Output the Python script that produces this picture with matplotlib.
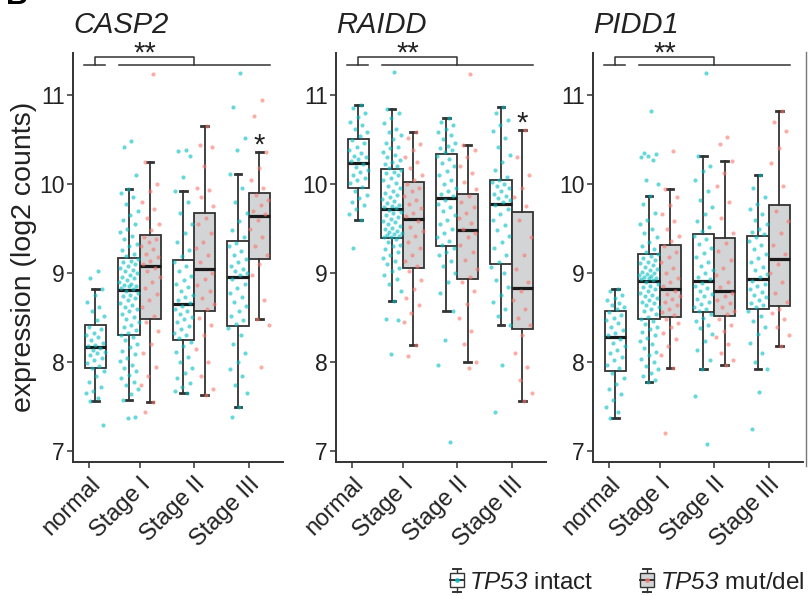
import numpy as np
import matplotlib
matplotlib.use('Agg')
import matplotlib.pyplot as plt
from matplotlib.patches import Rectangle, Patch
from matplotlib.lines import Line2D
from matplotlib.legend_handler import HandlerBase

plt.rcParams['font.family'] = ['Liberation Sans', 'DejaVu Sans']
plt.rcParams['mathtext.fontset'] = 'custom'
# the math part of the legend is only used for the italic gene name
plt.rcParams['mathtext.rm'] = 'Liberation Sans:italic'
plt.rcParams['mathtext.it'] = 'Liberation Sans:italic'

stage_labels = ['normal', 'Stage I', 'Stage II', 'Stage III']
genes = ['CASP2', 'RAIDD', 'PIDD1']
legend_labels = [r'$\mathrm{TP53}$ intact', r'$\mathrm{TP53}$ mut/del']

# box order: normal, I intact, I mut, II intact, II mut, III intact, III mut
casp2_med = [8.17, 8.81, 9.08, 8.65, 9.05, 8.96, 9.64]
casp2_q1 = [7.94, 8.30, 8.48, 8.25, 8.57, 8.41, 9.16]
casp2_q3 = [8.42, 9.17, 9.43, 9.15, 9.68, 9.36, 9.90]
casp2_lo = [7.56, 7.58, 7.55, 7.65, 7.63, 7.50, 8.49]
casp2_hi = [8.82, 9.94, 10.25, 9.92, 10.65, 10.11, 10.36]

raidd_med = [10.24, 9.72, 9.61, 9.84, 9.48, 9.78, 8.83]
raidd_q1 = [9.95, 9.39, 9.06, 9.30, 8.93, 9.10, 8.37]
raidd_q3 = [10.51, 10.17, 10.02, 10.34, 9.89, 10.05, 9.69]
raidd_lo = [9.60, 8.69, 8.19, 8.57, 8.00, 8.42, 7.57]
raidd_hi = [10.89, 10.84, 10.58, 10.74, 10.44, 10.87, 10.61]

pidd1_med = [8.28, 8.91, 8.82, 8.91, 8.80, 8.93, 9.16]
pidd1_q1 = [7.90, 8.48, 8.51, 8.56, 8.52, 8.60, 8.63]
pidd1_q3 = [8.58, 9.22, 9.32, 9.44, 9.39, 9.42, 9.77]
pidd1_lo = [7.37, 7.78, 7.93, 7.92, 7.97, 7.92, 8.18]
pidd1_hi = [8.82, 9.86, 9.94, 10.32, 10.26, 10.10, 10.82]

# single-box significance (index into box order)
casp2_star = [6]
raidd_star = [6]
pidd1_star = []

# per-sample points
casp2_normal = [9.02, 8.94, 8.82, 8.75, 8.68, 8.62, 8.58, 8.52, 8.47,
                8.40, 8.37, 8.33, 8.30, 8.28, 8.25, 8.22, 8.19, 8.18,
                8.16, 8.14, 8.12, 8.10, 8.08, 8.05, 8.02, 7.99, 7.96,
                7.93, 7.90, 7.85, 7.78, 7.72, 7.68, 7.65, 7.60, 7.56, 7.30]
casp2_s1_intact = [10.48, 10.41, 10.10, 9.94, 9.90, 9.85, 9.78, 9.70, 9.65, 9.60,
                   9.55, 9.50, 9.46, 9.42, 9.38, 9.33, 9.30, 9.26, 9.22, 9.19,
                   9.16, 9.14, 9.12, 9.10, 9.08, 9.06, 9.04, 9.02, 9.00, 8.98,
                   8.96, 8.94, 8.92, 8.90, 8.88, 8.87, 8.86, 8.85, 8.83, 8.82,
                   8.80, 8.78, 8.76, 8.74, 8.72, 8.70, 8.67, 8.64, 8.62, 8.60,
                   8.57, 8.54, 8.51, 8.48, 8.45, 8.42, 8.39, 8.36, 8.33, 8.31,
                   8.28, 8.25, 8.21, 8.17, 8.13, 8.09, 8.05, 8.01, 7.97, 7.94,
                   7.90, 7.86, 7.82, 7.78, 7.74, 7.70, 7.64, 7.58, 7.39, 7.37]
casp2_s1_mut = [11.24, 10.25, 10.00, 9.92, 9.80, 9.72, 9.62, 9.55, 9.48,
                9.41, 9.38, 9.35, 9.30, 9.27, 9.22, 9.18, 9.14, 9.10,
                9.06, 9.02, 8.96, 8.90, 8.83, 8.77, 8.70, 8.62, 8.52,
                8.45, 8.35, 8.20, 8.10, 7.95, 7.85, 7.75, 7.55, 7.44]
casp2_s2_intact = [10.38, 10.37, 10.31, 10.08, 9.92, 9.80, 9.68, 9.55, 9.45, 9.35, 9.26, 9.19,
                   9.13, 9.08, 9.02, 8.97, 8.92, 8.88, 8.84, 8.80, 8.76, 8.73, 8.70, 8.67,
                   8.63, 8.60, 8.57, 8.54, 8.51, 8.48, 8.45, 8.41, 8.37, 8.33, 8.30, 8.27,
                   8.23, 8.18, 8.12, 8.06, 8.00, 7.94, 7.88, 7.82, 7.77, 7.72, 7.68, 7.65]
casp2_s2_mut = [10.65, 10.44, 10.42, 10.20, 9.95, 9.93, 9.85, 9.75,
                9.62, 9.55, 9.45, 9.35, 9.28, 9.20, 9.12,
                9.00, 8.93, 8.87, 8.80, 8.72, 8.65, 8.60,
                8.50, 8.42, 8.30, 8.15, 8.00, 7.85, 7.70, 7.63]
casp2_s3_intact = [11.25, 10.86, 10.52, 10.38, 10.11, 9.95, 9.80, 9.68, 9.58, 9.48, 9.40,
                   9.34, 9.30, 9.25, 9.20, 9.16, 9.12, 9.08, 9.05, 9.02, 9.00, 8.98,
                   8.93, 8.88, 8.83, 8.78, 8.73, 8.68, 8.63, 8.58, 8.52, 8.47, 8.43,
                   8.38, 8.30, 8.20, 8.10, 8.00, 7.92, 7.85, 7.75, 7.65, 7.50, 7.38]
casp2_s3_mut = [10.94, 10.76, 10.36, 10.18, 10.05, 9.95,
                9.88, 9.82, 9.76, 9.70, 9.66,
                9.60, 9.50, 9.40, 9.30, 9.20,
                9.10, 8.98, 8.70, 8.49, 8.42, 7.95]

raidd_normal = [10.89, 10.85, 10.80, 10.75, 10.70, 10.66, 10.62, 10.58, 10.54,
                10.49, 10.46, 10.42, 10.38, 10.35, 10.32, 10.30, 10.28, 10.26,
                10.22, 10.19, 10.16, 10.13, 10.10, 10.07, 10.04, 10.01, 9.97,
                9.92, 9.88, 9.84, 9.80, 9.76, 9.72, 9.66, 9.60, 9.28]
raidd_s1_intact = [11.26, 10.84, 10.80, 10.74, 10.68, 10.62, 10.58, 10.55, 10.50, 10.46,
                   10.42, 10.40, 10.36, 10.33, 10.30, 10.27, 10.25, 10.22, 10.20, 10.18,
                   10.16, 10.14, 10.12, 10.10, 10.07, 10.04, 10.01, 9.98, 9.95, 9.92,
                   9.90, 9.88, 9.85, 9.83, 9.81, 9.79, 9.77, 9.75, 9.74, 9.73,
                   9.71, 9.69, 9.67, 9.65, 9.63, 9.61, 9.59, 9.57, 9.55, 9.53,
                   9.51, 9.49, 9.47, 9.46, 9.45, 9.44, 9.43, 9.42, 9.41, 9.40,
                   9.38, 9.35, 9.32, 9.30, 9.27, 9.24, 9.20, 9.17, 9.14, 9.10,
                   9.06, 9.02, 8.98, 8.93, 8.88, 8.80, 8.69, 8.49, 8.47, 8.09]
raidd_s1_mut = [10.58, 10.52, 10.45, 10.38, 10.30, 10.25, 10.18, 10.10, 10.05,
                10.00, 9.96, 9.92, 9.87, 9.82, 9.78, 9.73, 9.68, 9.64,
                9.58, 9.52, 9.47, 9.42, 9.35, 9.28, 9.20, 9.14, 9.08,
                9.02, 8.92, 8.82, 8.72, 8.64, 8.55, 8.45, 8.19, 8.07]
raidd_s2_intact = [10.74, 10.70, 10.66, 10.62, 10.58, 10.55, 10.50, 10.46, 10.43, 10.40, 10.38, 10.36,
                   10.32, 10.28, 10.24, 10.20, 10.15, 10.10, 10.05, 10.00, 9.96, 9.92, 9.89, 9.86,
                   9.82, 9.78, 9.74, 9.70, 9.65, 9.60, 9.55, 9.50, 9.45, 9.40, 9.36, 9.32,
                   9.28, 9.24, 9.20, 9.14, 9.08, 9.00, 8.90, 8.78, 8.57, 8.25, 7.97, 7.10]
raidd_s2_mut = [11.24, 10.44, 10.38, 10.30, 10.20, 10.12, 10.02, 9.94,
                9.86, 9.80, 9.74, 9.68, 9.62, 9.56, 9.50,
                9.45, 9.40, 9.32, 9.24, 9.15, 9.05, 8.96,
                8.90, 8.80, 8.65, 8.50, 8.35, 8.20, 8.00, 7.94]
raidd_s3_intact = [10.87, 10.80, 10.72, 10.66, 10.60, 10.52, 10.42, 10.33, 10.25, 10.16, 10.08,
                   10.04, 10.02, 10.00, 9.98, 9.95, 9.92, 9.89, 9.86, 9.84, 9.82, 9.80,
                   9.76, 9.72, 9.66, 9.60, 9.54, 9.48, 9.42, 9.35, 9.28, 9.20, 9.13,
                   9.07, 9.00, 8.92, 8.84, 8.76, 8.68, 8.60, 8.52, 8.42, 7.97, 7.44]
raidd_s3_mut = [10.61, 10.30, 10.10, 9.95, 9.85, 9.75,
                9.60, 9.40, 9.20, 9.05, 8.90,
                8.80, 8.70, 8.60, 8.50, 8.42,
                8.30, 8.10, 7.95, 7.80, 7.65, 7.57]

pidd1_normal = [8.82, 8.80, 8.76, 8.72, 8.70, 8.67, 8.64, 8.62, 8.60,
                8.56, 8.53, 8.50, 8.47, 8.44, 8.40, 8.36, 8.33, 8.30,
                8.26, 8.22, 8.18, 8.14, 8.10, 8.06, 8.02, 7.97, 7.93,
                7.88, 7.82, 7.76, 7.70, 7.64, 7.58, 7.50, 7.44, 7.37]
pidd1_s1_intact = [10.82, 10.35, 10.34, 10.32, 10.30, 10.27, 10.04, 10.00, 9.86, 9.78,
                   9.68, 9.60, 9.55, 9.50, 9.45, 9.40, 9.35, 9.30, 9.27, 9.24,
                   9.21, 9.19, 9.17, 9.15, 9.13, 9.11, 9.09, 9.07, 9.05, 9.03,
                   9.01, 9.00, 8.99, 8.98, 8.97, 8.96, 8.95, 8.94, 8.93, 8.92,
                   8.90, 8.88, 8.86, 8.84, 8.82, 8.80, 8.78, 8.76, 8.74, 8.72,
                   8.70, 8.68, 8.66, 8.64, 8.62, 8.60, 8.57, 8.54, 8.51, 8.49,
                   8.46, 8.43, 8.40, 8.37, 8.34, 8.30, 8.27, 8.24, 8.20, 8.16,
                   8.12, 8.08, 8.04, 8.00, 7.96, 7.92, 7.88, 7.84, 7.80, 7.78]
pidd1_s1_mut = [10.37, 9.94, 9.85, 9.76, 9.66, 9.58, 9.50, 9.42, 9.36,
                9.30, 9.24, 9.18, 9.12, 9.06, 9.00, 8.95, 8.90, 8.85,
                8.80, 8.77, 8.74, 8.71, 8.68, 8.64, 8.60, 8.56, 8.53,
                8.48, 8.44, 8.39, 8.33, 8.26, 8.18, 8.08, 7.93, 7.21]
pidd1_s2_intact = [11.25, 10.32, 10.20, 10.15, 10.05, 9.92, 9.82, 9.74, 9.66, 9.58, 9.52, 9.47,
                   9.42, 9.38, 9.33, 9.28, 9.23, 9.18, 9.13, 9.08, 9.04, 9.00, 8.96, 8.93,
                   8.89, 8.86, 8.83, 8.80, 8.77, 8.74, 8.71, 8.68, 8.65, 8.62, 8.60, 8.58,
                   8.54, 8.50, 8.46, 8.42, 8.38, 8.32, 8.24, 8.14, 8.02, 7.92, 7.62, 7.08]
pidd1_s2_mut = [10.53, 10.45, 10.26, 10.12, 9.98, 9.80, 9.62, 9.45,
                9.34, 9.25, 9.15, 9.06, 8.98, 8.90, 8.84,
                8.78, 8.74, 8.70, 8.66, 8.62, 8.58, 8.54,
                8.48, 8.42, 8.35, 8.28, 8.20, 8.10, 8.02, 7.97]
pidd1_s3_intact = [10.10, 9.95, 9.85, 9.78, 9.72, 9.66, 9.60, 9.55, 9.50, 9.46, 9.44,
                   9.40, 9.36, 9.32, 9.27, 9.22, 9.17, 9.12, 9.07, 9.03, 8.99, 8.96,
                   8.91, 8.88, 8.85, 8.82, 8.79, 8.76, 8.73, 8.70, 8.67, 8.64, 8.62,
                   8.57, 8.52, 8.46, 8.40, 8.32, 8.22, 8.10, 8.00, 7.92, 7.67, 7.25]
pidd1_s3_mut = [10.82, 10.70, 10.60, 10.40, 10.24, 9.98,
                9.70, 9.58, 9.45, 9.32, 9.22,
                9.10, 9.00, 8.90, 8.78, 8.68,
                8.60, 8.55, 8.48, 8.40, 8.30, 8.18]

INTACT = '#00BFC4'
MUT = '#F8766D'
EDGE = '#333333'
GRAY_FILL = '#d3d4d6'
TXT = '#222222'

tick_pos = [0.08, 1, 2, 3]
box_pos = [0.19, 0.805, 1.195, 1.805, 2.195, 2.805, 3.195]
box_is_mut = [False, False, True, False, True, False, True]


class BoxIcon(HandlerBase):
    def __init__(self, fill, dot):
        super().__init__()
        self.fill = fill
        self.dot = dot

    def create_artists(self, legend, orig_handle, xdescent, ydescent,
                       width, height, fontsize, trans):
        x0, y0 = -xdescent, -ydescent
        cx = x0 + width / 2
        bw = width * 0.75
        arts = [Line2D([cx, cx], [y0 - 0.25 * height, y0 + 1.25 * height], color=EDGE, lw=1.0),
                Line2D([cx - bw * 0.3, cx + bw * 0.3], [y0 - 0.25 * height] * 2, color=EDGE, lw=1.4),
                Line2D([cx - bw * 0.3, cx + bw * 0.3], [y0 + 1.25 * height] * 2, color=EDGE, lw=1.4),
                Rectangle((cx - bw / 2, y0 + 0.05 * height), bw, 0.9 * height,
                          facecolor=self.fill, edgecolor=EDGE, lw=1.0),
                Line2D([cx - bw / 2, cx + bw / 2], [y0 + 0.5 * height] * 2, color=EDGE, lw=1.4),
                Line2D([cx], [y0 + 0.5 * height], marker='o', ms=3.5, color=self.dot,
                       alpha=0.8, mew=0)]
        for a in arts:
            a.set_transform(trans)
        return arts


def jitter(n, width=0.36):
    # evenly spread horizontal offsets (golden-ratio sequence)
    return ((np.arange(1, n + 1) * 0.6180339887) % 1 - 0.5) * width


def draw_panel(ax, gene, med, q1, q3, lo, hi, groups, stars):
    stats = [dict(med=med[i], q1=q1[i], q3=q3[i], whislo=lo[i], whishi=hi[i])
             for i in range(len(med))]
    bp = ax.bxp(stats, positions=box_pos, widths=0.39, capwidths=0.12,
                patch_artist=True, showfliers=False, manage_ticks=False,
                boxprops=dict(linewidth=1.3, edgecolor=EDGE),
                whiskerprops=dict(linewidth=1.3, color=EDGE),
                capprops=dict(linewidth=2.0, color=EDGE),
                medianprops=dict(linewidth=2.3, color='#1a1a1a'))
    for box, mut in zip(bp['boxes'], box_is_mut):
        box.set_facecolor(GRAY_FILL if mut else 'white')
        box.set_zorder(2)

    for x, ys, mut in zip(box_pos, groups, box_is_mut):
        ys = np.array(ys)
        ax.scatter(x + jitter(len(ys)), ys, s=9, color=MUT if mut else INTACT,
                   alpha=0.6, linewidths=0, zorder=3)

    # overall comparison bracket
    ax.plot([-0.01, 0.375], [11.34, 11.34], color=EDGE, lw=1.1, clip_on=False)
    ax.plot([0.615, 3.39], [11.34, 11.34], color=EDGE, lw=1.1, clip_on=False)
    ax.plot([0.19, 0.19, 2.0, 2.0], [11.34, 11.43, 11.43, 11.34], color=EDGE, lw=1.1, clip_on=False)
    ax.text(1.095, 11.37, '**', ha='center', va='baseline', fontsize=21, color=TXT, clip_on=False)
    for i in stars:
        ax.text(box_pos[i], hi[i] - 0.02, '*', ha='center', va='baseline', fontsize=21, color=TXT)

    ax.set_xlim(-0.22, 3.63)
    ax.set_ylim(6.88, 11.47)
    ax.set_xticks(tick_pos)
    ax.set_xticklabels(stage_labels, rotation=45, ha='right', va='top', rotation_mode='anchor')
    ax.set_yticks([7, 8, 9, 10, 11])
    ax.tick_params(axis='x', length=4, width=1.1, color=EDGE, labelsize=17, labelcolor=TXT, pad=4)
    ax.tick_params(axis='y', length=4, width=1.1, color=EDGE, labelsize=16.5, labelcolor=TXT, pad=2)
    for s in ['top', 'right']:
        ax.spines[s].set_visible(False)
    for s in ['left', 'bottom']:
        ax.spines[s].set_color(EDGE)
        ax.spines[s].set_linewidth(1.4)
    ax.text(0.0, 1.05, gene, transform=ax.transAxes, fontsize=21, fontstyle='italic',
            color=TXT, va='baseline', ha='left')


if __name__ == "__main__":
    fig = plt.figure(figsize=(8.09, 5.96), dpi=100)
    lefts = [73 / 809, 336 / 809, 593 / 809]
    axes = [fig.add_axes([l, 0.2248, 0.2596, 0.6862]) for l in lefts]

    draw_panel(axes[0], genes[0], casp2_med, casp2_q1, casp2_q3, casp2_lo, casp2_hi,
               [casp2_normal, casp2_s1_intact, casp2_s1_mut, casp2_s2_intact,
                casp2_s2_mut, casp2_s3_intact, casp2_s3_mut], casp2_star)
    draw_panel(axes[1], genes[1], raidd_med, raidd_q1, raidd_q3, raidd_lo, raidd_hi,
               [raidd_normal, raidd_s1_intact, raidd_s1_mut, raidd_s2_intact,
                raidd_s2_mut, raidd_s3_intact, raidd_s3_mut], raidd_star)
    draw_panel(axes[2], genes[2], pidd1_med, pidd1_q1, pidd1_q3, pidd1_lo, pidd1_hi,
               [pidd1_normal, pidd1_s1_intact, pidd1_s1_mut, pidd1_s2_intact,
                pidd1_s2_mut, pidd1_s3_intact, pidd1_s3_mut], pidd1_star)

    fig.text(24 / 809, 1 - 257 / 596, 'expression (log2 counts)', rotation=90,
             fontsize=20.5, color=TXT, ha='center', va='center')

    # frame edge on the right and cropped panel letter
    fig.add_artist(Line2D([806 / 809, 806 / 809], [1 - 52 / 596, 1 - 466 / 596],
                          color='#777777', lw=1.0))
    fig.text(0.008, 0.994, 'B', fontsize=22, fontweight='bold', color='black', va='baseline')

    h_int = Patch(facecolor='white')
    h_mut = Patch(facecolor=GRAY_FILL)
    fig.legend([h_int, h_mut], legend_labels,
               handler_map={h_int: BoxIcon('white', INTACT), h_mut: BoxIcon(GRAY_FILL, MUT)},
               loc='center right', bbox_to_anchor=(1.012, 0.022), ncol=2, frameon=False,
               fontsize=17.5, handlelength=0.75, handleheight=0.6, handletextpad=0.15,
               columnspacing=1.8, labelcolor=TXT, borderpad=0.1)

    fig.savefig('out.png', dpi=100)
